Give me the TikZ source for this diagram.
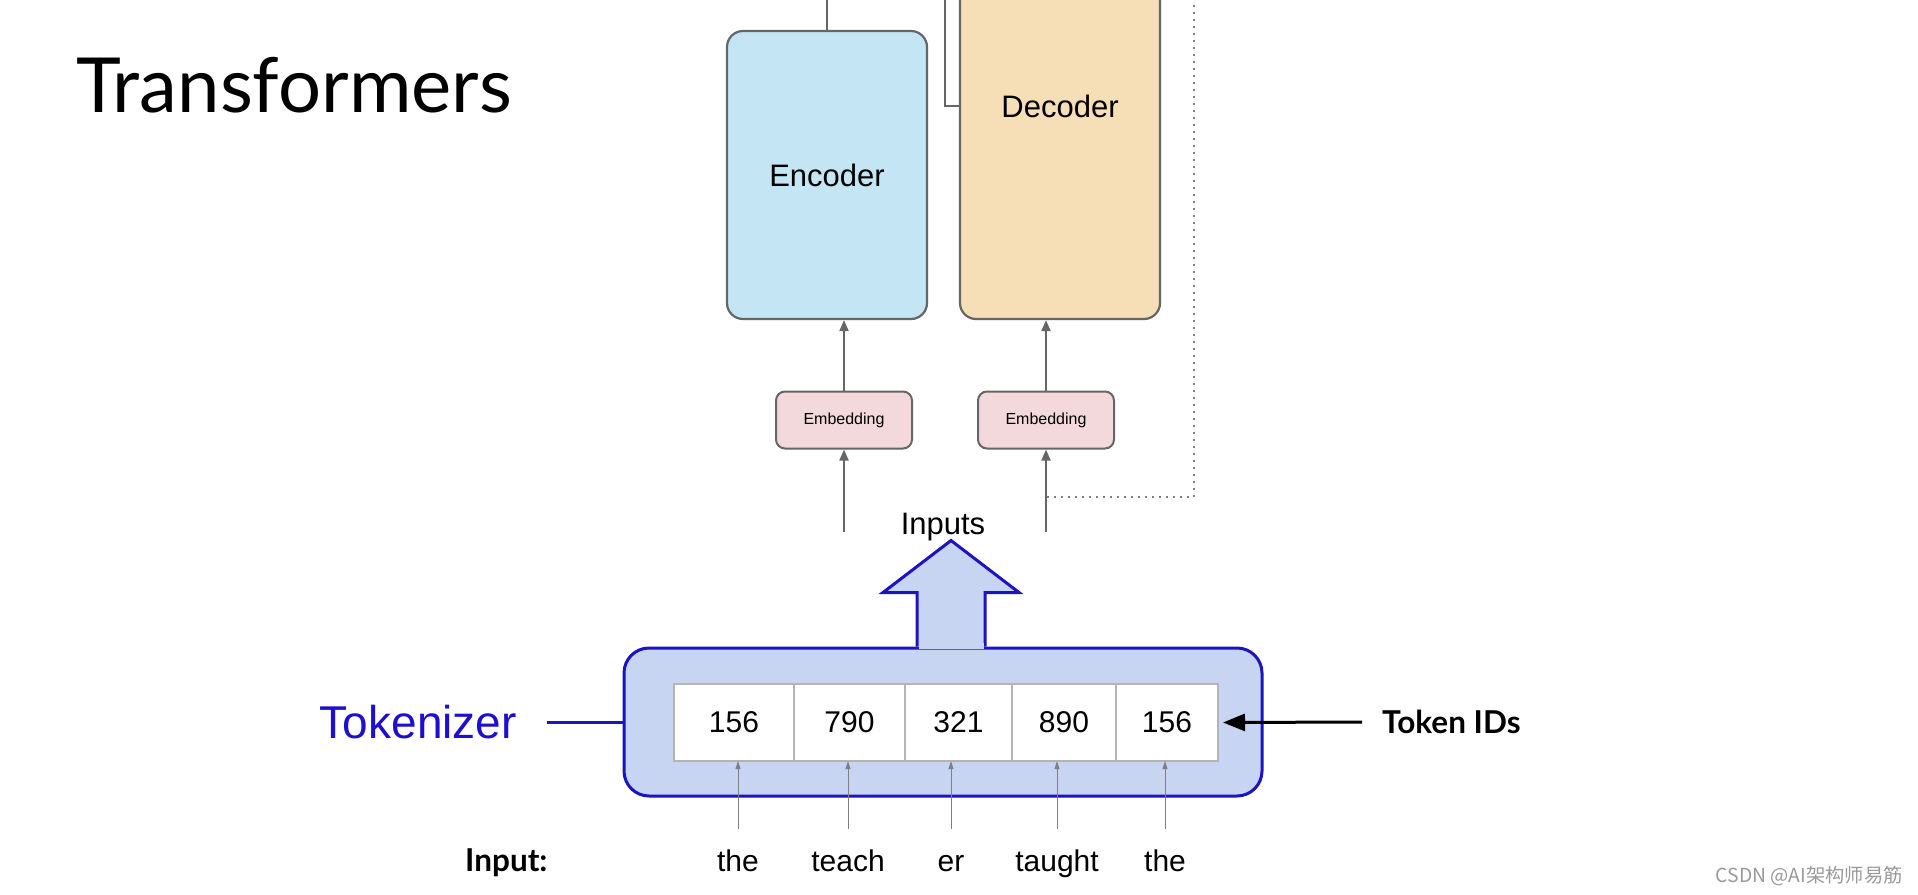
\documentclass[tikz,border=0pt]{standalone}
\usepackage{fontspec}
\setmainfont{Liberation Sans}
\newfontfamily\latofont{Lato}
\newfontfamily\cjkfont{Noto Sans CJK SC}
\usetikzlibrary{positioning,arrows.meta,calc}

\definecolor{encblue}{HTML}{C4E5F4}
\definecolor{decorange}{HTML}{F6DEB6}
\definecolor{embpink}{HTML}{F4D9DC}
\definecolor{boxgray}{HTML}{666666}
\definecolor{tokfill}{HTML}{C7D4F2}
\definecolor{tokblue}{HTML}{1C14C0}
\definecolor{tkzblue}{HTML}{1E0ED2}
\definecolor{cellgray}{HTML}{B4B4B4}
\definecolor{markgray}{HTML}{9A9A9A}

\newcommand{\fsize}[1]{\fontsize{#1}{#1}\selectfont}

\begin{document}
\begin{tikzpicture}[x=1pt, y=-1pt,
  block/.style={draw=boxgray, line width=2.2pt, rounded corners=16pt, inner sep=0pt, font=\fsize{31}},
  embed/.style={draw=boxgray, fill=embpink, line width=2pt, rounded corners=9pt,
    minimum width=136pt, minimum height=57pt, inner sep=0pt, font=\fsize{16}},
  flow/.style={draw=boxgray, line width=2pt, -{Triangle[length=11pt,width=9pt]}},
  wire/.style={draw=boxgray, line width=2pt},
  loopback/.style={draw=gray, line width=1.8pt, dash pattern=on 2pt off 5pt},
  cell/.style={draw=cellgray, fill=white, line width=1.2pt, minimum height=77pt,
    inner sep=0pt, outer sep=0pt, font=\fsize{30}},
  word/.style={inner sep=0pt, text height=22pt, text depth=6pt, font=\fsize{30}},
  tiny/.style={draw=gray, line width=1pt, -{Triangle[length=8pt,width=5pt]}},
  label/.style={inner sep=0pt, font=\latofont\bfseries\fsize{31.5}},
]

\useasboundingbox (0,0) rectangle (1918,894);
\clip (0,0) rectangle (1918,894);
\fill[white] (0,0) rectangle (1918,894);

\node[label, font=\latofont\fsize{76}, anchor=base west] (title) at (76,112) {Transformers};

% encoder / decoder
\node[block, fill=encblue, minimum width=200pt, minimum height=288pt] (enc) at (827,175) {Encoder};
\node[block, fill=decorange, minimum width=200pt, minimum height=426pt] (dec) at (1060,106) {Decoder};

\node[embed] (emb1) at (844,420) {Embedding};
\node[embed] (emb2) at (1046,420) {Embedding};

\coordinate (encIn) at (844,532);
\coordinate (decIn) at (1046,532);
\coordinate (encOut) at (827,-2);
\coordinate (fbTop) at (945,-2);
\coordinate (loopTop) at (1194,-2);

\draw[flow] (emb1) -- (emb1 |- enc.south);
\draw[flow] (emb2) -- (emb2 |- dec.south);
\draw[flow] (encIn) -- (emb1);
\draw[flow] (decIn) -- (emb2);
\draw[wire] (enc.north) -- (encOut);
\draw[wire] (fbTop) |- (dec.west);
\draw[loopback] (loopTop) |- ($(decIn)+(0,-35)$);

\node[font=\fsize{31}] (inp) at (943,527) {Inputs};

% tokenizer
\node[draw=tokblue, fill=tokfill, line width=3pt, rounded corners=25pt,
  minimum width=638pt, minimum height=148pt] (tok) at (943,722) {};
\coordinate (tokTop) at ($(tok.north)+(8,0)$);
\draw[tokblue, fill=tokfill, line width=3pt] ($(tokTop)+(-34,0)$) -- ++(0,-54) -- ++(-34,0)
  -- ++(68,-52) -- ++(68,52) -- ++(-34,0) -- ++(0,54);
\fill[tokfill] ($(tokTop)+(-32.5,-4)$) rectangle ($(tokTop)+(32.5,2)$);

\node[cell, minimum width=120pt, anchor=west] (c1) at (674,722.5) {156};
\node[cell, minimum width=111pt, right=0pt of c1] (c2) {790};
\node[cell, minimum width=107pt, right=0pt of c2] (c3) {321};
\node[cell, minimum width=104pt, right=0pt of c3] (c4) {890};
\node[cell, minimum width=102pt, right=0pt of c4] (c5) {156};

\node[word, anchor=base] (w1) at (738,871) {the};
\node[word, anchor=base] (w2) at (848,871) {teach};
\node[word, anchor=base] (w3) at (951,871) {er};
\node[word, anchor=base] (w4) at (1057,871) {taught};
\node[word, anchor=base] (w5) at (1165,871) {the};

\foreach \i in {1,...,5}
  \draw[tiny] ([yshift=20pt]w\i.north) -- (w\i |- c\i.south);

\node[label, anchor=base west] (inlbl) at (465,871) {Input:};

\node[inner sep=0pt, text=tkzblue, font=\fsize{46}, anchor=east] (tkz) at (517,722) {Tokenizer};
\draw[tokblue, line width=3pt] ([xshift=30pt]tkz.east) -- (tok.west);

\node[label, anchor=west] (tid) at (1382,722) {Token IDs};
\draw[line width=3pt, -{Triangle[length=22pt,width=17pt]}] ([xshift=-20pt]tid.west) -- ([xshift=5pt]c5.east);

\node[inner sep=0pt, text=markgray, font=\cjkfont\fsize{19.3}, anchor=east] (mark) at (1903,876) {CSDN @AI架构师易筋};

\end{tikzpicture}
\end{document}
